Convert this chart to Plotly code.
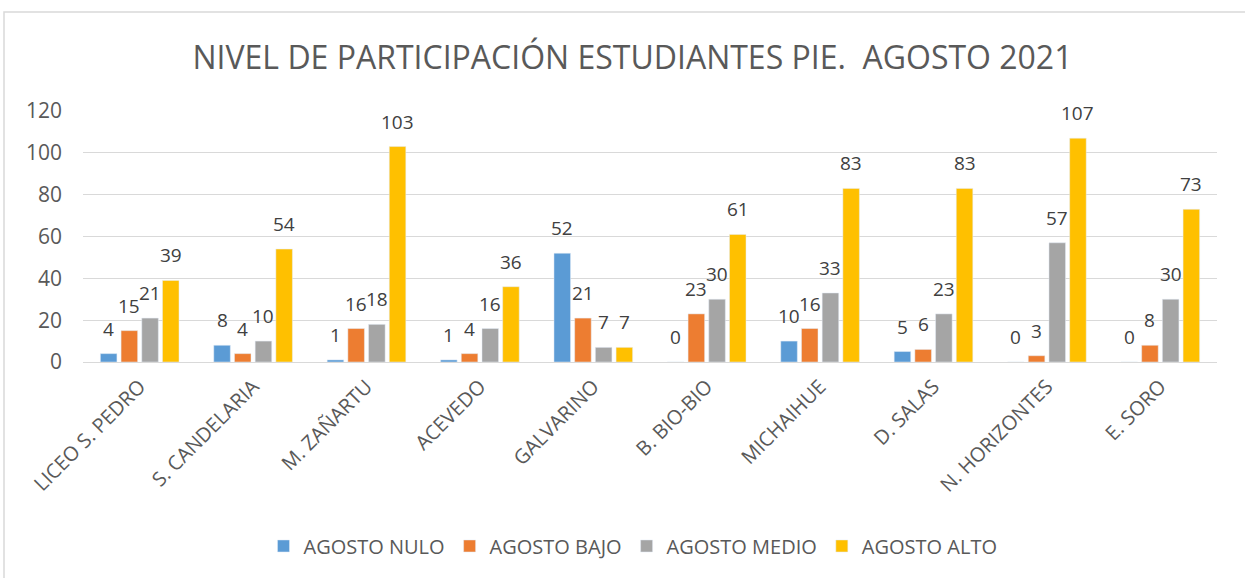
import plotly.graph_objects as go

categories = ["LICEO S. PEDRO", "S. CANDELARIA", "M. ZAÑARTU", "ACEVEDO", "GALVARINO",
              "B. BIO-BIO", "MICHAIHUE", "D. SALAS", "N. HORIZONTES", "E. SORO"]
nulo = [4, 8, 1, 1, 52, 0, 10, 5, 0, 0]
bajo = [15, 4, 16, 4, 21, 23, 16, 6, 3, 8]
medio = [21, 10, 18, 16, 7, 30, 33, 23, 57, 30]
alto = [39, 54, 103, 36, 7, 61, 83, 83, 107, 73]

series = [
    ("AGOSTO NULO", nulo, "#5B9BD5"),
    ("AGOSTO BAJO", bajo, "#ED7D31"),
    ("AGOSTO MEDIO", medio, "#A5A5A5"),
    ("AGOSTO ALTO", alto, "#FFC000"),
]

FONT = "Open Sans"
W, H = 1245, 578
ML, MR, MT, MB = 83, 28, 111, 216
BARGAP = 0.27
BARGROUPGAP = 0.2

fig = go.Figure()
for name, vals, color in series:
    fig.add_trace(go.Bar(x=categories, y=vals, name=name, marker_color=color))

# data labels positioned over each bar (pixel offsets derived from bar layout)
slot = (W - ML - MR) / len(categories)
group_w = slot * (1 - BARGAP)
per = group_w / len(series)
for i, (name, vals, color) in enumerate(series):
    dx = -group_w / 2 + (i + 0.5) * per
    for c, v in zip(categories, vals):
        fig.add_annotation(x=c, y=v, text=str(v), showarrow=False, xshift=dx, yshift=10,
                           yanchor="bottom", xanchor="center",
                           font=dict(size=19, color="#404040", family=FONT))

fig.update_layout(
    width=W, height=H,
    margin=dict(l=ML, r=MR, t=MT, b=MB),
    paper_bgcolor="white", plot_bgcolor="white",
    barmode="group", bargap=BARGAP, bargroupgap=BARGROUPGAP,
    title=dict(text="NIVEL DE PARTICIPACIÓN ESTUDIANTES PIE.  AGOSTO 2021",
               x=0.508, xanchor="center", y=0.9, yanchor="middle",
               font=dict(size=32, color="#595959", family=FONT)),
    font=dict(family=FONT, color="#595959"),
    legend=dict(orientation="h", x=0.485, xanchor="center", y=-0.733, yanchor="middle",
                font=dict(size=20, color="#595959", family=FONT),
                traceorder="normal"),
    showlegend=True,
)
fig.update_yaxes(range=[0, 120], dtick=20, showgrid=True, gridcolor="#D9D9D9", gridwidth=1,
                 zeroline=True, zerolinecolor="#D9D9D9", zerolinewidth=1,
                 tickfont=dict(size=21, color="#595959", family=FONT), ticks="", showline=False,
                 ticklabelstandoff=20)
fig.update_xaxes(tickangle=-45, tickfont=dict(size=20, color="#595959", family=FONT),
                 showline=True, linecolor="#D9D9D9", ticks="", ticklabelstandoff=4)

fig.add_shape(type="rect", xref="paper", yref="paper",
              x0=(4 - ML) / (W - ML - MR), x1=1.2,
              y0=-1.5, y1=(H - MB - 12) / (H - MT - MB),
              line=dict(color="#D9D9D9", width=1.5), fillcolor="rgba(0,0,0,0)", layer="below")

fig.write_html("out.html", config={"displayModeBar": False},
               post_script="document.body.style.margin='0px';")
